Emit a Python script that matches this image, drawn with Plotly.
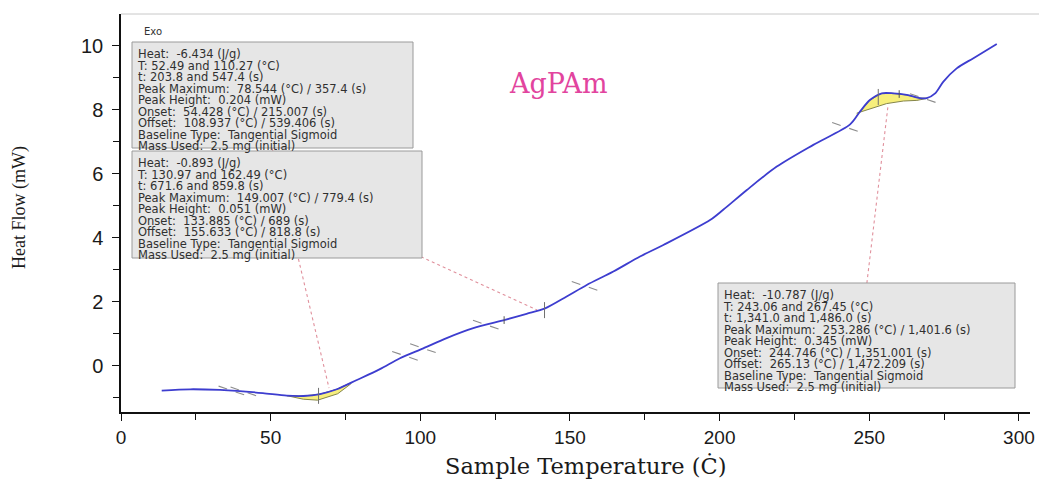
import numpy as np
import plotly.graph_objects as go

# ---------------- data ----------------
temp_c = [13.6, 23.1, 33.1, 38.7, 47.4, 55.4, 60.9, 66.5, 72.1, 78.8, 86.5,
          93.2, 101.0, 108.8, 117.7, 128.3, 135.5, 141.7, 148.9, 155.6, 164.5,
          173.4, 181.2, 196.8, 201.2, 209.1, 219.1, 231.3, 243.6, 246.9, 250.2,
          254.2, 258.0, 262.5, 266.9, 269.2, 272.0, 274.7, 279.2, 284.8, 292.6]
heat_flow = [-0.77, -0.73, -0.75, -0.78, -0.85, -0.93, -0.94, -0.88, -0.73, -0.44, -0.10,
             0.24, 0.55, 0.87, 1.18, 1.44, 1.63, 1.80, 2.17, 2.53, 2.95,
             3.42, 3.78, 4.56, 4.88, 5.50, 6.23, 6.91, 7.55, 7.95, 8.31,
             8.52, 8.52, 8.47, 8.37, 8.37, 8.52, 8.88, 9.30, 9.62, 10.06]

# sigmoid baselines under the integrated peaks
peak1_base_t = [55.4, 60.9, 65.7, 72.4, 76.8]
peak1_base_hf = [-0.93, -1.04, -1.07, -0.87, -0.56]
peak3_base_t = [245.8, 250.2, 255.8, 261.4, 265.9, 269.2]
peak3_base_hf = [7.90, 8.04, 8.20, 8.28, 8.30, 8.36]

# analysis marks on the curve
tangent_marks_t = [37.0, 41.0, 95.0, 101.0, 122.0, 155.0, 242.0, 268.0]
peak_marks_t = [66.0, 141.5, 253.0]
small_marks_t = [128.0, 260.0]

# callout connectors (from box to peak), in data units
connector_t = [[50.5, 69.5], [100.2, 139.0], [249.2, 256.3]]
connector_hf = [[6.81, -0.69], [3.41, 1.75], [2.59, 8.16]]

x_ticks = [0, 50, 100, 150, 200, 250, 300]
y_ticks = [0, 2, 4, 6, 8, 10]

box_texts = [
    ["Heat:  -6.434 (J/g)", "T: 52.49 and 110.27 (°C)", "t: 203.8 and 547.4 (s)",
     "Peak Maximum:  78.544 (°C) / 357.4 (s)", "Peak Height:  0.204 (mW)",
     "Onset:  54.428 (°C) / 215.007 (s)", "Offset:  108.937 (°C) / 539.406 (s)",
     "Baseline Type:  Tangential Sigmoid", "Mass Used:  2.5 mg (initial)"],
    ["Heat:  -0.893 (J/g)", "T: 130.97 and 162.49 (°C)", "t: 671.6 and 859.8 (s)",
     "Peak Maximum:  149.007 (°C) / 779.4 (s)", "Peak Height:  0.051 (mW)",
     "Onset:  133.885 (°C) / 689 (s)", "Offset:  155.633 (°C) / 818.8 (s)",
     "Baseline Type:  Tangential Sigmoid", "Mass Used:  2.5 mg (initial)"],
    ["Heat:  -10.787 (J/g)", "T: 243.06 and 267.45 (°C)", "t: 1,341.0 and 1,486.0 (s)",
     "Peak Maximum:  253.286 (°C) / 1,401.6 (s)", "Peak Height:  0.345 (mW)",
     "Onset:  244.746 (°C) / 1,351.001 (s)", "Offset:  265.13 (°C) / 1,472.209 (s)",
     "Baseline Type:  Tangential Sigmoid", "Mass Used:  2.5 mg (initial)"],
]

# ---------------- figure ----------------
W, H = 1039, 479
ML, MR, MT, MB = 121, 9, 14, 67
X_RANGE = [0, 303.7]
Y_RANGE = [-1.44, 11.0]
pw = W - ML - MR
ph = H - MT - MB

def px(xp):
    return (xp - ML) / pw

def py(yp):
    return (H - MB - yp) / ph

fig = go.Figure()

t_arr = np.array(temp_c)
hf_arr = np.array(heat_flow)

def fill_poly(bt, bhf):
    lo, hi = bt[0], bt[-1]
    sel = (t_arr > lo) & (t_arr < hi)
    up_t = [lo] + list(t_arr[sel]) + [hi]
    up_hf = [float(np.interp(lo, t_arr, hf_arr))] + list(hf_arr[sel]) + [float(np.interp(hi, t_arr, hf_arr))]
    return up_t + list(bt[::-1]), up_hf + list(bhf[::-1])

for bt, bhf in [(peak1_base_t, peak1_base_hf), (peak3_base_t, peak3_base_hf)]:
    xs, ys = fill_poly(bt, bhf)
    fig.add_trace(go.Scatter(x=xs, y=ys, mode="lines", fill="toself",
                             fillcolor="#f7ef7c", line=dict(color="#85854a", width=1),
                             hoverinfo="skip", showlegend=False))

# tangent marks: short grey dashed segments crossing the curve
for tc in tangent_marks_t:
    yc = float(np.interp(tc, t_arr, hf_arr))
    fig.add_trace(go.Scatter(x=[tc - 4.4, tc + 4.4], y=[yc + 0.14, yc - 0.14], mode="lines",
                             line=dict(color="#8c8c8c", width=1.1, dash="dash"),
                             hoverinfo="skip", showlegend=False))

# connectors
for ct, ch in zip(connector_t, connector_hf):
    fig.add_trace(go.Scatter(x=ct, y=ch, mode="lines",
                             line=dict(color="#e0909c", width=1.1, dash="dot"),
                             hoverinfo="skip", showlegend=False))

# main curve
fig.add_trace(go.Scatter(x=temp_c, y=heat_flow, mode="lines",
                         line=dict(color="#3d3dcf", width=1.8, shape="spline", smoothing=0.8),
                         hoverinfo="skip", showlegend=False))

# peak marks: short vertical lines
for tc in peak_marks_t:
    yc = float(np.interp(tc, t_arr, hf_arr))
    fig.add_trace(go.Scatter(x=[tc, tc], y=[yc - 0.3, yc + 0.2], mode="lines",
                             line=dict(color="#707070", width=1),
                             hoverinfo="skip", showlegend=False))
for tc in small_marks_t:
    yc = float(np.interp(tc, t_arr, hf_arr))
    fig.add_trace(go.Scatter(x=[tc, tc], y=[yc - 0.12, yc + 0.12], mode="lines",
                             line=dict(color="#555555", width=1),
                             hoverinfo="skip", showlegend=False))

# ---------------- callout boxes ----------------
box_geom = [  # left px, top px, right px, bottom px
    (132, 42, 413, 148),
    (132, 151, 422, 258),
    (718, 283, 1015, 388),
]
LINE_STEP = 11.5                 # px between text lines
BASE_SIZE = LINE_STEP / 1.3      # plotly spaces lines by 1.3 x base font size
GLYPH_SIZE = 11.5                # visible glyph size

shapes = [dict(type="line", xref="paper", yref="paper", x0=0, x1=1.01, y0=1, y1=1,
               line=dict(color="#c8c8c8", width=1))]
annotations = []
for lines, (lx, ty, rx, by) in zip(box_texts, box_geom):
    shapes.append(dict(type="rect", xref="paper", yref="paper",
                       x0=px(lx), x1=px(rx), y0=py(by), y1=py(ty),
                       fillcolor="#e6e6e6", line=dict(color="#9a9a9a", width=1),
                       layer="above"))
    body = "<br>".join(f"<span style='font-size:{GLYPH_SIZE}px'>{ln}</span>" for ln in lines)
    annotations.append(dict(
        xref="paper", yref="paper", x=px(lx + 3), y=py(ty + 2.5),
        xanchor="left", yanchor="top", text=body, showarrow=False, align="left",
        font=dict(family="DejaVu Sans, Verdana, sans-serif", size=BASE_SIZE, color="#303030"),
    ))

annotations.append(dict(
    xref="paper", yref="paper", x=px(142), y=py(31),
    xanchor="left", yanchor="middle", text="Exo", showarrow=False,
    font=dict(family="DejaVu Sans, sans-serif", size=10, color="#333333")))
annotations.append(dict(
    xref="paper", yref="paper", x=px(558), y=py(83),
    xanchor="center", yanchor="middle", text="AgPAm", showarrow=False,
    font=dict(family="DejaVu Serif, serif", size=27, color="#e2449e")))
# axis titles
annotations.append(dict(
    xref="paper", yref="paper", x=px(586), y=py(466),
    xanchor="center", yanchor="middle", text="Sample Temperature (Ċ)", showarrow=False,
    font=dict(family="DejaVu Serif, serif", size=22.5, color="#1a1a1a")))
annotations.append(dict(
    xref="paper", yref="paper", x=px(19), y=py(208), textangle=-90,
    xanchor="center", yanchor="middle", text="Heat Flow (mW)", showarrow=False,
    font=dict(family="Liberation Serif, Times New Roman, serif", size=18, color="#1a1a1a")))

fig.update_layout(
    width=W, height=H,
    margin=dict(l=ML, r=MR, t=MT, b=MB, autoexpand=False),
    paper_bgcolor="white", plot_bgcolor="white",
    showlegend=False,
    annotations=annotations,
    shapes=shapes,
)

fig.update_xaxes(
    range=X_RANGE, tickvals=x_ticks, ticktext=[str(v) for v in x_ticks], automargin=False,
    showgrid=False, zeroline=False, showline=True, linecolor="#111111", linewidth=1.5,
    ticks="outside", ticklen=7, tickwidth=1.3, tickcolor="#111111",
    minor=dict(tickvals=[25, 75, 125, 175, 225, 275], ticks="outside", ticklen=6,
               tickwidth=1.2, tickcolor="#111111"),
    tickfont=dict(family="Liberation Sans, Arial, sans-serif", size=19, color="#1a1a1a"),
)
fig.update_yaxes(
    range=Y_RANGE, tickvals=y_ticks, ticktext=[str(v) for v in y_ticks], automargin=False,
    showgrid=False, zeroline=False, showline=True, linecolor="#111111", linewidth=1.5,
    ticks="outside", ticklen=7, tickwidth=1.3, tickcolor="#111111", ticklabelstandoff=5,
    minor=dict(tickvals=[-1, 1, 3, 5, 7, 9], ticks="outside", ticklen=6,
               tickwidth=1.2, tickcolor="#111111"),
    tickfont=dict(family="Liberation Sans, Arial, sans-serif", size=20, color="#1a1a1a"),
)

fig.write_html("out.html",
               config={"displayModeBar": False},
               post_script="document.body.style.margin='0';document.body.style.padding='0';"
                           "document.body.style.overflow='hidden';")
